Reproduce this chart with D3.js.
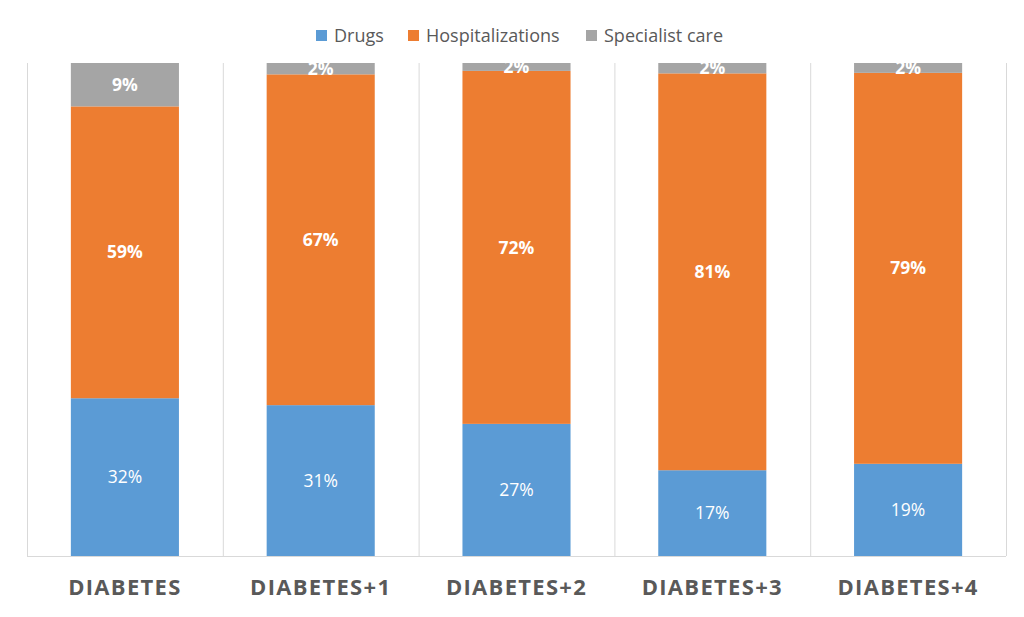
<!DOCTYPE html>
<html><head><meta charset="utf-8">
<script src="https://cdn.jsdelivr.net/npm/d3@7"></script>
<style>body{margin:0;background:#fff}svg{display:block}</style>
</head><body>
<svg id="c" width="1024" height="617"></svg>
<script>
const categories = ["DIABETES","DIABETES+1","DIABETES+2","DIABETES+3","DIABETES+4"];
const seriesNames = ["Drugs","Hospitalizations","Specialist care"];
const drugs = [32.0, 30.6, 26.8, 17.4, 18.7];
const hospitalizations = [59.2, 67.1, 71.6, 80.5, 79.3];
const specialistCare = [8.8, 2.3, 1.6, 2.1, 2.0];
const labels = {
  "Drugs": ["32%","31%","27%","17%","19%"],
  "Hospitalizations": ["59%","67%","72%","81%","79%"],
  "Specialist care": ["9%","2%","2%","2%","2%"]
};
const colors = ["#5B9BD5","#ED7D31","#A5A5A5"];

const svg = d3.select("#c");
const m = {l:27, r:1006, t:63, b:556};
const FONT = "'Open Sans', 'Noto Sans', sans-serif";

const rows = categories.map((c,i)=>({cat:c, "Drugs":drugs[i], "Hospitalizations":hospitalizations[i], "Specialist care":specialistCare[i]}));
const stack = d3.stack().keys(seriesNames).offset(d3.stackOffsetExpand);
const series = stack(rows);

const x = d3.scaleBand().domain(categories).range([m.l, m.r]).paddingInner(0).paddingOuter(0);
const y = d3.scaleLinear().domain([0,1]).range([m.b, m.t]);
const barW = x.bandwidth()*0.552;

// vertical separators
const sep = categories.map(c=>x(c)).concat([m.r]);
svg.append("g").selectAll("line").data(sep).join("line")
  .attr("x1",d=>d+0.5).attr("x2",d=>d+0.5).attr("y1",m.t).attr("y2",m.b)
  .attr("stroke","#D9D9D9").attr("stroke-width",1);

// bars
const g = svg.append("g");
series.forEach((s,si)=>{
  g.append("g").selectAll("rect").data(s).join("rect")
    .attr("x",d=>x(d.data.cat)+(x.bandwidth()-barW)/2)
    .attr("width",barW)
    .attr("y",d=>y(d[1]))
    .attr("height",d=>y(d[0])-y(d[1]))
    .attr("fill",colors[si]);
});

// axis line
svg.append("line").attr("x1",m.l).attr("x2",m.r).attr("y1",m.b+0.5).attr("y2",m.b+0.5)
  .attr("stroke","#D9D9D9");

// data labels
series.forEach((s,si)=>{
  const name = seriesNames[si];
  svg.append("g").selectAll("text").data(s).join("text")
    .attr("x",d=>x(d.data.cat)+x.bandwidth()/2)
    .attr("y",d=>(y(d[0])+y(d[1]))/2)
    .attr("dy","0.35em")
    .attr("text-anchor","middle")
    .attr("font-family",FONT)
    .attr("font-size",17.5)
    .attr("font-weight", si===0 ? 400 : 700)
    .attr("fill","#fff")
    .text((d,i)=>labels[name][i]);
});

// x axis labels
const xa = svg.append("g").attr("transform",`translate(0,${m.b})`)
  .call(d3.axisBottom(x).tickSize(0).tickPadding(23));
xa.select(".domain").remove();
xa.selectAll("text")
  .attr("font-family",FONT).attr("font-size",22).attr("font-weight",700)
  .attr("fill","#595959").attr("letter-spacing","1.3px").attr("dy","0.71em");

// legend
const legendX = [316, 408, 586];
const lg = svg.append("g");
seriesNames.forEach((n,i)=>{
  lg.append("rect").attr("x",legendX[i]).attr("y",30).attr("width",11).attr("height",11).attr("fill",colors[i]);
  lg.append("text").attr("x",legendX[i]+18).attr("y",35.5).attr("dy","0.35em")
    .attr("font-family",FONT).attr("font-size",18).attr("fill","#595959").text(n);
});
</script>
</body></html>
